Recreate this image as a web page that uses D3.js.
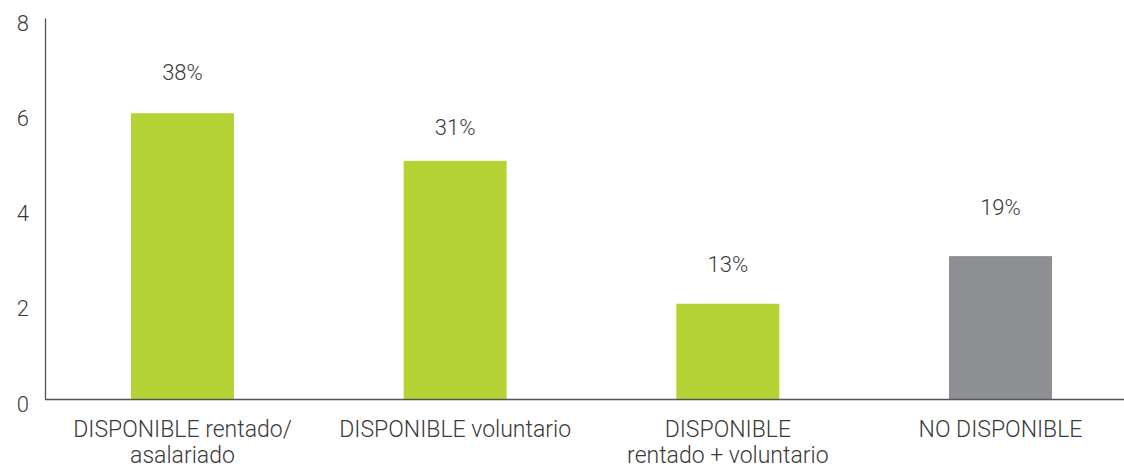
<!DOCTYPE html>
<html><head><meta charset="utf-8">
<script src="https://cdn.jsdelivr.net/npm/d3@7"></script>
<style>
body{margin:0;background:#fff;}
text{font-family:Roboto, "Open Sans", sans-serif;font-weight:300;fill:#3a3a3a;}
</style></head>
<body><svg id="c" width="1124" height="468"></svg>
<script>
const categories = [["DISPONIBLE rentado/","asalariado"],["DISPONIBLE voluntario"],["DISPONIBLE","rentado + voluntario"],["NO DISPONIBLE"]];
const values = [6, 5, 2, 3];
const percentLabels = ["38%","31%","13%","19%"];
const labelLevels = [6.87, 5.72, 2.84, 4.03];
const barColors = ["#b5d335","#b5d335","#b5d335","#8e8f92"];
const yTicks = [0,2,4,6,8];

const svg = d3.select("#c");
const x0 = 45, yBase = 399, yTop = 18;
const x = d3.scaleBand().domain(d3.range(categories.length)).range([x0, 1138]).paddingInner(0.6223).paddingOuter(0.3154);
const y = d3.scaleLinear().domain([0, 8]).range([yBase, yTop]);

svg.selectAll("rect.bar").data(values).enter().append("rect")
  .attr("x",(d,i)=>x(i)).attr("width",x.bandwidth())
  .attr("y",d=>y(d)).attr("height",d=>yBase-y(d))
  .attr("fill",(d,i)=>barColors[i]);

// y axis
const yAxis = d3.axisLeft(y).tickValues(yTicks).tickSize(0).tickPadding(16);
const gy = svg.append("g").attr("transform",`translate(${x0},0)`).call(yAxis);
gy.select(".domain").attr("stroke","#555").attr("stroke-width",1.3);
gy.selectAll("text").attr("font-size",22).attr("dy","0.55em").style("font-family","Roboto, sans-serif").attr("fill","#3a3a3a");

// x baseline
svg.append("line").attr("x1",x0).attr("x2",1124).attr("y1",yBase+0.5).attr("y2",yBase+0.5).attr("stroke","#555").attr("stroke-width",1.3);

// category labels
const cl = svg.selectAll("text.cat").data(categories).enter().append("text")
  .attr("class","cat").attr("text-anchor","middle").attr("font-size",23)
  .attr("x",(d,i)=>x(i)+x.bandwidth()/2).attr("y",437);
cl.selectAll("tspan").data(d=>d).enter().append("tspan")
  .attr("x",function(){return this.parentNode.getAttribute("x");})
  .attr("dy",(d,j)=>j===0?0:26).text(d=>d);

// percent labels
svg.selectAll("text.pct").data(percentLabels).enter().append("text")
  .attr("text-anchor","middle").attr("font-size",22)
  .attr("x",(d,i)=>x(i)+x.bandwidth()/2).attr("y",(d,i)=>y(labelLevels[i]))
  .attr("dy","0.36em").text(d=>d);
</script></body></html>
